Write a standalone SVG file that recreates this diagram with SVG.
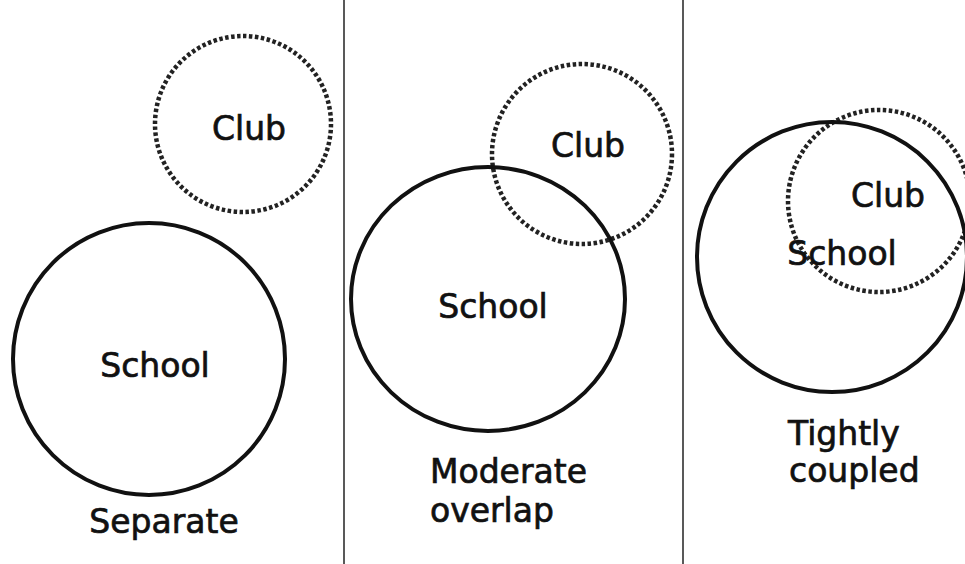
<svg xmlns="http://www.w3.org/2000/svg" width="965" height="564" viewBox="0 0 965 564">
<style>
.school{fill:none;stroke:#111;stroke-width:4}
.club{fill:none;stroke:#222;stroke-width:4.5;stroke-dasharray:3.5 2.5}
.t{font-family:"DejaVu Sans",Verdana,sans-serif;font-size:33px;fill:#111;stroke:#111;stroke-width:0.7}
.m{text-anchor:middle}
.div{stroke:#222;stroke-width:1.5}
</style>
<rect width="965" height="564" fill="#fff"/>
<g id="dividers">
<line class="div" x1="344" y1="0" x2="344" y2="564"/>
<line class="div" x1="683" y1="0" x2="683" y2="564"/>
</g>
<g id="panel1-club"><circle class="club" cx="243" cy="124" r="88"/><text class="t m" x="249" y="140">Club</text></g>
<g id="panel1-school"><circle class="school" cx="149" cy="359" r="136"/><text class="t m" x="155" y="377">School</text></g>
<g id="panel1-label"><text class="t m" x="164" y="533">Separate</text></g>
<g id="panel2-club"><circle class="club" cx="582" cy="154" r="90"/><text class="t m" x="588" y="157">Club</text></g>
<g id="panel2-school"><ellipse class="school" cx="488" cy="299" rx="137" ry="132"/><text class="t m" x="493" y="318">School</text></g>
<g id="panel2-label"><text class="t" x="430" y="483">Moderate</text><text class="t" x="430" y="522">overlap</text></g>
<g id="panel3-club"><circle class="club" cx="879" cy="201" r="91"/><text class="t m" x="888" y="207">Club</text></g>
<g id="panel3-school"><circle class="school" cx="832" cy="257" r="135"/><text class="t m" x="842" y="265">School</text></g>
<g id="panel3-label"><text class="t" x="788" y="445">Tightly</text><text class="t" x="789" y="482">coupled</text></g>
</svg>
